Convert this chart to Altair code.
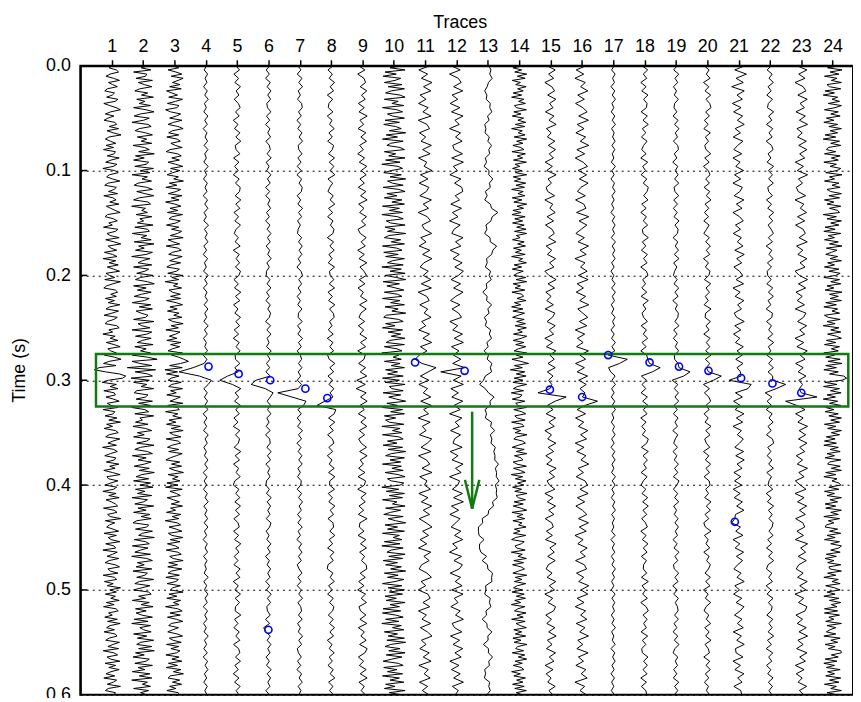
import altair as alt
import pandas as pd

# ---------------- data (amplitudes in hundredths of a trace spacing) ----------------
# each trace covers 0.0 - 0.6 s; noisy traces are sampled every 2 ms, quiet ones every 4 ms
T_END = 0.6

trace01 = [4,-8,15,22,-5,-18,6,25,-10,3, 18,-14,-22,9,2,-16,20,11,-25,-6, 14,28,-3,-20,7,-12,-24,10,16,-8,
           22,-15,5,30,-9,-20,-4,13,-18,6, -26,12,8,-14,24,-2,-19,17,5,-28, 10,21,-7,-16,3,26,-12,-22,15,8,
           -10,19,-25,4,14,-6,23,-17,-3,11, 27,-13,-21,6,18,-9,2,-26,20,12, -15,-5,24,-19,8,29,-11,-2,16,-23,
           3,17,-27,13,-8,21,-14,6,25,-18, -7,10,-22,28,4,-16,-25,12,19,-3, 15,-20,9,-11,26,-6,-18,22,1,-24,
           18,7,-14,-21,16,24,-9,3,-28,11, -5,20,-17,8,27,-12,-3,15,-23,9, 30,-8,-26,14,-40,-55,-20,25,45,35,
           -10,-30,15,-5,20,-25,8,12,-18,6, 24,-14,-2,19,-27,10,5,-21,17,-9, 28,-16,3,-24,12,21,-8,-19,26,4,
           -12,15,-29,7,18,-4,-22,13,9,-17, 23,-6,11,-25,2,27,-15,-10,20,-3, -21,16,6,-28,14,-9,24,-18,-1,12,
           19,-26,8,17,-13,-5,29,-20,10,-7, -16,4,22,-24,15,-11,-2,26,-19,7, 13,-28,18,3,-15,23,-8,-21,11,25,
           -12,-4,20,-27,9,16,-23,5,-14,28, -6,15,-20,12,-3,24,-17,8,-26,14, 21,-10,2,-22,18,-13,27,-5,-16,9,
           -24,11,17,-8,-19,25,4,-12,22,-27, 7,19,-15,-3,26,-21,13,-9,24,-2, -18,10,-25,16,5,-14,28,-11,-20,12, 8]
trace02 = [18,-6,25,-30,12,8,-22,30,-15,4, 28,-10,-26,15,-5,33,-20,6,-12,24, -30,10,35,-8,-28,20,2,-35,16,26,
           -12,-25,8,30,-18,12,-6,28,-32,5, 20,-14,36,-24,4,-30,18,10,-26,33, -8,22,-35,14,-3,27,-16,-28,12,30,
           -20,6,34,-12,-30,16,24,-36,8,-4, 14,-22,28,-10,2,-18,32,-26,15,20, -34,12,-6,26,-28,35,-14,4,-24,30,
           10,-36,22,-2,-16,28,-30,18,6,-20, 32,-8,-24,14,36,-30,10,-18,26,-5, -28,20,4,-34,25,-12,30,-22,-6,16,
           8,-30,35,-16,-4,22,-35,28,12,-24, 26,-2,-18,32,-26,10,-8,24,-34,14, 45,-35,-10,28,-50,40,-25,15,30,-38,
           20,-30,12,-6,34,-20,-28,16,8,-22, 30,-14,24,-36,6,18,-26,34,-10,-2, -24,16,-32,8,28,-18,4,-30,22,12,
           -20,35,-8,-26,14,30,-34,10,-16,26, 4,-28,20,-12,36,-4,-22,18,-30,24, -10,32,-24,6,-18,28,-35,14,2,-26,
           34,-16,10,-30,22,-6,26,-20,-32,18, 12,-24,30,-2,-14,36,-28,8,20,-34, 16,-8,-26,24,-36,12,30,-18,4,-22,
           28,-32,14,6,-20,34,-12,-26,22,-4, -30,18,26,-14,8,-34,20,-6,32,-24, 10,-22,-4,30,-28,16,-36,24,-10,2,
           26,-30,12,-18,34,-8,-20,28,-14,36, -24,4,-32,20,10,-26,30,-16,6,-34, 22,-12,28,-36,14,-2,24,-30,18,-8, 12]
trace03 = [-8,14,-20,5,24,-10,28,12,-6,18, -15,22,-25,-8,10,-18,26,4,-22,15, 8,-28,-12,20,6,-15,24,-2,-20,12,
           28,-6,-18,14,-24,9,19,-11,3,25, -14,-26,10,22,-8,16,-20,4,27,-12, 18,-5,-23,13,-2,29,-16,8,-27,20,
           6,-19,24,-10,15,-28,2,21,-14,11, -22,26,-7,-17,19,5,-25,14,-9,23, 10,-13,28,-20,-4,17,-26,12,22,-6,
           -18,25,3,-15,20,-11,-24,16,7,-21, 27,-8,14,-29,11,-3,23,-17,-6,19, -12,20,-25,6,26,-14,9,-22,15,-2,
           24,-19,-5,28,-10,13,-27,18,4,-16, 8,-24,21,-12,17,-6,-20,26,-9,14, 30,45,20,-15,25,-30,10,-25,15,-10,
           -20,22,-8,-18,26,-12,6,-24,19,3, -14,27,-21,9,16,-28,11,-5,23,-17, 5,-25,19,-10,28,-15,-3,21,-26,12,
           20,-8,-22,14,-18,25,6,-13,-27,17, -9,23,-16,2,29,-20,12,-6,18,-24, 11,-28,25,-14,7,19,-23,-3,16,-10,
           26,-12,4,-25,21,-7,14,-29,9,20, -17,6,24,-19,-8,27,-13,18,-22,3, 15,-26,11,22,-15,-4,28,-18,10,-21,
           24,-9,-20,16,-27,13,5,-23,19,-6, -12,28,-17,8,-24,20,-3,15,-28,11, 25,-14,19,-22,6,27,-10,-18,13,-5,
           -21,9,26,-16,-4,22,-25,14,-11,18, 7,-27,15,-8,24,-19,10,-26,21,-3, 29,-13,-20,17,-6,23,-15,5,-24,12, 16]
trace04 = [3,-5,6,-2,4,-7,5,-3,8,-4, 2,-6,7,-3,5,-8,4,-2,6,-5, 7,-3,2,-6,8,-4,3,-7,5,-2,
           4,-8,6,-3,7,-5,2,-6,9,-4, 5,-2,7,-6,3,-8,6,-4,2,-7, 8,-3,5,-7,4,-2,6,-5,7,-3,
           3,-6,8,-4,5,-7,2,-3,6,-8, 4,-5,-40,-85,-20,18,8,-6,5,-4, 6,-3,7,-8,4,-5,3,-7,8,-2,
           5,-6,2,-4,7,-3,6,-8,4,-5, 3,-7,5,-2,8,-6,4,-3,6,-5, 7,-4,3,-8,5,-2,6,-7,4,-3,
           2,-5,8,-6,3,-4,7,-2,5,-8, 6,-3,4,-7,2,-5,8,-4,3,-6, 5,-8,6,-2,7,-4,3,-6,5,-3, 4]
trace05 = [-4,8,-10,5,-7,11,-3,6,-9,4, 10,-5,7,-12,3,-8,9,-4,12,-6, -3,9,-11,6,-8,4,-12,7,-5,10,
           8,-6,12,-4,9,-10,5,-7,11,-3, -9,4,-6,10,-12,7,-3,8,-5,11, 6,-10,4,-8,12,-5,9,-11,3,-7,
           11,-4,8,-9,5,-12,7,-3,10,-6, -5,9,-7,4,-30,-55,-15,12,-6,5, -8,11,-4,7,-10,3,-12,9,-5,8,
           4,-9,12,-6,8,-11,5,-3,10,-7, -12,6,-4,9,-7,11,-5,8,-10,3, 7,-11,5,-8,12,-4,6,-9,3,-10,
           10,-3,9,-12,4,-7,11,-6,8,-5, -6,12,-8,3,-10,7,-4,9,-11,5, 9,-5,11,-7,4,-12,6,-8,10,-3, 6]
trace06 = [5,-7,3,-9,6,-4,8,-2,7,-5, -3,8,-6,4,-9,5,-2,7,-8,3, 6,-4,9,-7,2,-5,8,-3,6,-9,
           4,-8,5,-2,7,-6,3,-9,5,-4, 8,-3,6,-7,4,-2,9,-5,3,-6, -7,5,-4,8,-6,3,-8,6,-2,7,
           3,-9,7,-5,8,-4,2,-6,9,-3, 5,-6,4,-8,6,-40,-55,-10,15,6, -4,7,-3,8,-5,2,-7,6,-9,4,
           6,-5,9,-3,7,-8,4,-2,5,-6, -8,3,-6,9,-4,7,-2,5,-7,8, 4,-7,2,-5,8,-3,6,-9,3,-4,
           7,-2,5,-8,4,-6,9,-3,7,-5, -3,6,-9,4,-15,-8,6,-4,8,-2, 5,-7,3,-6,9,-4,7,-2,5,-8, 3]
trace07 = [-6,4,-8,7,-3,9,-5,2,-7,6, 8,-4,5,-9,3,-6,7,-2,9,-5, -3,7,-6,4,-8,5,-9,6,-2,8,
           5,-8,3,-6,9,-4,6,-7,2,-5, -7,6,-4,8,-2,7,-5,3,-9,4, 9,-3,6,-5,4,-8,2,-6,7,-4,
           -5,8,-7,3,-6,9,-4,5,-8,2, 6,-4,7,-5,3,-8,6,-5,-70,-25, 20,12,-6,5,-8,3,-7,9,-4,6,
           -9,4,-5,7,-3,8,-6,2,-7,5, 3,-8,6,-4,9,-2,5,-7,4,-6, 8,-5,2,-9,6,-3,7,-4,5,-8,
           -2,7,-6,4,-8,5,-3,9,-6,3, 6,-4,8,-7,2,-5,9,-3,6,-8, -4,5,-7,3,-9,6,-2,8,-5,4, -3]
trace08 = [7,-10,4,-6,11,-3,8,-12,5,-7, -9,6,-12,3,-5,10,-7,4,-11,8, 4,-8,11,-6,9,-3,12,-10,5,-4,
           -10,7,-3,12,-8,5,-11,6,-2,9, 6,-12,8,-4,10,-7,3,-9,11,-5, -3,9,-6,11,-10,4,-8,12,-5,7,
           10,-5,3,-9,7,-12,6,-4,8,-11, -6,12,-4,8,-10,5,-7,9,-3,6, -20,-45,15,10,-8,12,-5,7,-11,4,
           9,-7,5,-12,3,-6,10,-8,12,-4, -5,11,-9,4,-7,12,-3,8,-10,6, 8,-4,12,-6,5,-11,9,-3,7,-10,
           -12,6,-3,10,-8,4,-11,7,-5,9, 5,-9,7,-5,11,-4,8,-12,3,-6, 10,-6,4,-10,7,-3,12,-8,6,-5, 8]
trace09 = [-12,8,-15,5,10,-7,14,-3,9,-13, 6,-11,15,-8,4,-14,11,-5,13,-9, 3,-15,7,-10,14,-4,12,-8,6,-13,
           11,-6,15,-12,5,-9,13,-3,10,-14, -7,12,-4,9,-15,6,-11,14,-8,5, 13,-10,8,-14,3,-6,15,-9,12,-5,
           -11,7,-13,4,-8,14,-6,10,-15,9, 5,-12,10,-7,14,-18,9,-20,12,-6, 15,-8,6,-13,11,-5,14,-10,7,-12,
           -4,13,-9,15,-7,3,-12,8,-14,10, 6,-15,12,-5,9,-11,4,-13,15,-8, -10,5,-14,11,-6,13,-9,7,-3,12,
           14,-7,9,-12,5,-15,10,-4,13,-11, -6,11,-8,14,-13,6,-5,12,-9,15, 8,-13,4,-10,12,-7,15,-11,6,-4, 9]
trace10 = [30,-12,36,-28,8,-34,22,4,-30,26, -18,34,-8,-26,20,36,-30,14,-6,32, -36,10,28,-20,-4,34,-28,18,-32,6,
           24,-14,38,-24,12,-36,30,-10,-22,20, 34,-30,6,-16,36,-26,20,-38,14,28, -8,-32,24,-12,38,-20,-4,30,-34,16,
           36,-22,10,-30,26,-6,34,-36,18,-14, 28,-38,12,30,-24,-10,36,-28,4,-20, 38,-16,-30,22,-8,34,-36,10,26,-32,
           14,-26,34,-4,-20,30,-38,24,-12,36, -28,8,38,-34,18,-22,6,32,-30,12, 26,-36,20,-10,34,-28,14,-6,38,-24,
           -32,16,30,-26,4,-36,28,-18,22,-8, 36,-12,-24,34,-30,10,26,-38,16,-2, 24,-30,20,-8,34,-26,12,-20,30,-36,
           18,-28,36,-14,-6,30,-34,22,-16,8, 38,-22,12,-36,28,-10,34,-30,6,-26, -14,32,-38,20,-4,26,-36,16,30,-20,
           10,-34,28,-18,38,-8,-26,34,-12,22, -36,24,-6,30,-28,14,36,-20,-8,32, 20,-38,16,-24,34,-14,28,-36,10,-4,
           36,-26,22,-10,-32,30,-18,6,38,-28, 12,-20,34,-36,18,-2,26,-30,20,-38, 30,-8,-22,36,-16,28,-34,12,-26,24,
           -10,38,-30,14,-20,32,4,-36,26,-18, 34,-14,28,-28,8,-24,36,-12,18,-34, 22,-36,6,30,-26,16,-38,24,-4,32,
           -30,12,-18,34,-22,38,-10,-28,20,-16, 36,-24,26,-6,-34,14,30,-32,10,-20, 28,-36,18,-12,32,-26,4,-30,36,-14, 24]
trace11 = [15,-20,8,-12,22,-5,18,-16,3,-21, 10,-7,19,-22,6,14,-18,2,-13,20, -8,16,-21,5,-3,22,-15,9,-19,12,
           4,-17,20,-6,11,-22,7,17,-10,-2, 21,-14,3,-19,15,-8,22,-4,-16,10, -6,18,-12,20,-22,5,13,-17,8,-3,
           19,-11,2,-20,14,-7,21,-15,6,-18, -32,-10,35,10,-15,12,-20,8,-6,18, -14,20,-5,11,-22,16,-9,3,-18,21,
           7,-13,19,-21,4,15,-10,22,-17,6, -2,17,-20,9,-12,21,-6,14,-19,3, 22,-8,11,-16,5,-21,18,-4,13,-11,
           -19,6,20,-13,2,-22,9,16,-7,15, -21,4,-10,18,-15,7,22,-12,3,-17, 13,-6,19,-20,10,-3,16,-18,8,-9, 12]
trace12 = [-18,12,-22,6,15,-9,20,-14,4,-20, 11,-16,21,-5,9,-22,13,-3,18,-12, -7,19,-15,22,-10,3,-21,14,-6,17,
           20,-4,10,-18,16,-13,5,-22,12,-8, -15,21,-3,14,-20,9,-11,18,-5,22, 6,-17,13,-9,21,-2,-19,11,-14,7,
           16,-21,4,-12,19,-7,22,-16,8,-10, 14,-12,26,-50,15,-10,22,-18,6,-15, 20,-8,12,-22,17,-4,9,-19,13,-6,
           -11,18,-20,5,-14,21,-3,15,-22,10, 4,-13,19,-9,22,-16,7,-21,11,-2, -17,14,-6,20,-12,3,-22,16,-8,19,
           9,-20,13,-4,18,-15,21,-7,5,-18, 12,-3,22,-14,-6,17,-19,10,-11,20, -5,15,-21,8,-16,12,-9,22,-13,6, -4]
trace13 = [3,10,6,14,2,-2,-10,-3,-5,8, 6,13,-1,4,-10,-6,-9,5,0,12, 3,6,-8,-4,-12,4,3,16,5,8,
           -8,-2,-10,8,12,32,14,10,-6,-3, -10,7,8,28,16,12,-4,-2,-8,9, 4,11,-5,-3,-16,-2,-4,12,0,4,
           -11,-4,-8,9,5,12,-3,1,-12,2, -2,13,8,12,-8,-14,-26,-8,2,20, 7,8,-9,-4,-8,12,9,22,8,13,
           10,24,19,23,22,34,24,28,27,36, 24,28,27,30,15,18,3,1,-18,-16, -30,-30,-28,-12,-26,-27,-22,-4,-18,-1,
           0,15,12,13,-7,-6,-10,8,5,10, -6,-4,-18,-3,-2,13,0,1,-14,2, 2,15,3,5,-10,-7,-11,6,3,8, -3]
trace14 = [16,-20,8,-14,24,-6,19,-22,4,-11, 22,-5,13,-19,8,-24,15,-2,20,-15, -9,23,-17,6,-22,14,-4,21,-12,18,
           -24,10,-3,19,-16,24,-8,12,-20,5, 15,-23,20,-6,11,-18,23,-13,2,-21, 8,-12,24,-19,5,-15,21,-10,17,-24,
           13,-4,18,-22,9,-17,24,-7,14,-20, 6,-23,19,-14,11,-21,16,-8,22,-15, 24,-9,3,-21,16,-5,20,-18,7,-12,
           19,-24,11,-2,23,-16,8,-22,13,-6, -17,21,-10,24,-19,4,-13,18,-23,9, 14,-7,22,-15,5,-24,12,-20,17,-3,
           -21,16,-8,20,-13,23,-5,10,-18,24, 7,-19,15,-11,21,-2,-16,24,-9,12, -23,5,30,-15,10,-28,18,-9,22,-16,
           12,-20,24,-6,-18,14,-25,9,3,-22, 18,-11,-4,23,-17,8,21,-14,-6,19, -24,10,15,-20,5,-13,25,-8,-17,11,
           20,-3,-22,16,-9,24,-15,6,12,-19, -7,23,-18,4,19,-25,11,-12,22,-5, 15,-21,8,-14,25,-10,-3,20,-16,13,
           -19,6,24,-23,12,-7,18,-20,9,-2, 22,-15,3,-18,21,-11,-24,16,7,-13, -8,19,-25,10,-4,23,-17,14,-21,6,
           17,-2,-20,24,-12,9,-15,21,-6,-18, 11,-23,16,-9,20,-14,5,-25,18,-4, -15,22,-7,13,-24,19,-10,3,23,-17,
           8,-12,21,-20,6,-16,25,-5,-11,14, -22,18,-3,24,-13,10,-19,7,15,-24, 4,-17,20,-8,12,-21,16,-14,23,-9, 10]
trace15 = [-12,15,-6,10,-18,4,13,-9,17,-3, 8,-16,11,-5,18,-13,2,-10,14,-7, 16,-4,9,-17,6,-12,18,-8,3,-14,
           -9,13,-18,7,-2,15,-11,10,-16,5, 12,-6,17,-14,4,-10,16,-3,11,-18, -5,18,-8,13,-15,2,-12,9,-17,14,
           6,-11,15,-4,10,-18,7,-13,17,-2, 12,-8,15,-10,8,-6,4,-2,-40,50, 15,-10,8,-14,16,-5,12,-18,3,-9,
           17,-7,10,-15,5,-12,18,-4,13,-11, -3,14,-18,8,-10,16,-6,11,-17,4, 9,-13,6,-16,18,-2,12,-9,15,-7,
           -14,5,-11,17,-4,13,-18,7,-8,16, 10,-15,3,-12,14,-6,18,-10,5,-13, 16,-4,11,-17,8,-14,2,-9,15,-5, 7]
trace16 = [14,-18,6,-22,11,-4,19,-13,8,-20, 3,17,-10,21,-15,7,-19,12,-5,22, -16,9,-21,4,18,-12,15,-8,20,-3,
           -14,11,-20,6,13,-17,22,-9,16,-2, -19,8,-12,21,-6,14,-22,10,-4,17, -11,20,-15,5,-18,12,-7,22,-13,3,
           19,-8,16,-21,9,-14,4,-17,21,-6, 12,-20,8,-15,18,-10,14,-6,10,2, 50,10,-15,12,-20,6,-11,19,-4,15,
           -21,7,-16,13,-3,22,-12,5,-18,10, 18,-6,20,-14,9,-19,2,16,-11,21, -8,14,-22,4,-13,17,-5,11,-20,8,
           15,-17,6,-10,22,-3,19,-15,7,-21, 12,-4,16,-18,10,-7,21,-13,3,-16, 20,-11,5,-19,13,-2,17,-22,9,-6, 14]
trace17 = [3,-5,6,-2,4,-7,5,-3,7,-4, 2,-6,5,-3,7,-5,3,-2,6,-4, 5,-3,2,-6,7,-4,3,-7,4,-2,
           6,-4,3,-5,2,-7,5,-3,6,-2, 4,-6,7,-3,5,-2,6,-5,3,-7, 2,-4,6,-5,7,-3,4,-6,2,-5,
           6,-2,4,-7,3,-5,7,-4,5,-16, 45,20,-15,-8,6,-4,7,-5,3,-6, 5,-3,7,-4,2,-6,4,-2,6,-5,
           3,-7,5,-3,6,-4,2,-5,7,-3, 6,-4,3,-6,5,-2,7,-5,4,-3, 2,-5,6,-7,4,-3,5,-6,3,-4,
           7,-3,4,-5,2,-6,6,-4,5,-2, 4,-6,3,-4,7,-5,2,-3,6,-7, 5,-2,6,-4,3,-7,4,-5,2,-6, 4]
trace18 = [-8,10,-4,7,-12,5,-9,11,-3,8, 6,-11,9,-5,12,-7,4,-10,8,-3, -9,5,-12,10,-6,3,-11,7,-4,12,
           8,-3,11,-9,5,-12,6,-4,10,-7, -5,12,-7,4,-10,9,-3,8,-12,6, 11,-6,3,-9,7,-11,12,-5,4,-8,
           -3,9,-11,6,-4,10,-8,5,-12,7, 10,16,50,25,-10,6,-8,4,-11,9, -6,11,-4,8,-12,5,-9,3,-7,12,
           7,-10,12,-5,9,-3,6,-11,8,-4, -11,4,-8,10,-6,12,-5,7,-9,3, 9,-12,5,-7,11,-4,8,-10,6,-3,
           -4,7,-10,12,-8,3,-6,9,-12,5, 12,-5,8,-3,6,-11,10,-7,4,-9, -7,11,-3,9,-5,8,-12,6,-10,4, 7]
trace19 = [4,-7,9,-3,6,-8,2,-5,8,-4, -6,3,-9,7,-4,10,-2,5,-8,6, 8,-5,3,-10,6,-2,7,-4,9,-6,
           -3,9,-7,5,-8,4,-6,10,-3,7, 5,-9,6,-2,8,-5,10,-7,3,-4, -8,4,-6,9,-3,7,-10,5,-2,8,
           6,-3,10,-7,4,-8,5,-2,9,-5, -4,7,10,45,25,-12,6,-5,8,-3, 9,-6,4,-8,7,-3,5,-10,6,-2,
           -7,5,-9,3,-5,8,-4,6,-8,10, 3,-8,6,-4,9,-7,2,-5,7,-3, 8,-2,5,-9,4,-6,10,-3,6,-8,
           -5,9,-3,7,-10,4,-7,8,-2,5, 7,-4,8,-6,3,-9,6,-5,10,-3, -9,6,-2,5,-7,3,-8,9,-4,6, -5]
trace20 = [-10,6,-3,9,-12,5,-7,11,-4,8, 12,-5,7,-9,3,-11,10,-6,4,-8, -4,11,-8,6,-12,3,9,-5,7,-10,
           8,-3,12,-7,5,-9,4,-11,6,-2, -11,7,-5,10,-3,8,-12,4,-6,9, 5,-9,11,-4,7,-6,3,-10,12,-5,
           -7,10,-4,6,-11,9,-3,8,-5,12, -6,8,-3,4,45,20,-12,7,-9,5, 11,-4,6,-10,3,-7,12,-5,9,-8,
           -3,8,-12,5,-6,11,-4,7,-10,6, 9,-5,4,-8,12,-3,10,-7,5,-11, -6,12,-9,3,-4,8,-11,6,-2,10,
           4,-7,10,-5,9,-12,3,-6,11,-4, -10,5,-3,11,-8,6,-5,12,-7,3, 7,-11,8,-4,10,-6,5,-9,4,-3, 8]
trace21 = [20,-12,25,-8,15,-22,18,-5,12,-20, 8,-16,13,-4,18,-11,6,-17,14,-3, -15,10,-18,5,-9,16,-13,7,-18,12,
           4,-14,17,-7,11,-18,3,15,-10,6, -17,9,-4,14,-12,18,-6,10,-15,3, 13,-8,16,-18,5,-11,17,-3,9,-14,
           -6,18,-12,7,-16,4,-10,15,-5,12, -9,14,-5,6,8,-30,40,30,-10,12, -16,5,-11,17,-7,13,-18,9,-4,15,
           3,-12,16,-9,18,-5,11,-15,7,-13, 10,-17,5,-14,12,-6,17,-10,-12,-22, 6,-9,14,-18,4,-11,16,-7,13,-3,
           -15,8,-5,18,-12,3,-16,10,-8,17, 5,-13,11,-4,15,-17,9,-6,18,-10, -8,14,-18,6,-12,17,-3,11,-15,7, 10]
trace22 = [5,-9,7,-3,11,-6,4,-10,8,-5, -8,12,-4,6,-11,9,-3,7,-12,5, 10,-6,3,-9,12,-5,8,-4,11,-7,
           -4,8,-11,5,-7,12,-3,9,-6,4, 11,-5,8,-12,6,-3,10,-8,5,-9, -7,4,-10,9,-5,11,-6,3,-12,8,
           6,-11,5,-4,9,-7,12,-5,3,-10, 8,-4,11,-6,9,8,50,20,-15,6, -9,5,-12,7,-3,10,-6,4,-11,8,
           12,-7,3,-9,6,-4,11,-10,5,-3, -6,9,-12,4,-8,12,-5,7,-3,10, 7,-3,10,-7,5,-11,8,-4,12,-6,
           -11,6,-4,8,-12,3,-9,10,-5,7, 4,-10,9,-3,7,-6,12,-8,5,-12, 9,-4,6,-11,3,-7,10,-5,8,-3, 6]
trace23 = [-15,18,-8,12,-20,6,15,-11,19,-4, 10,-17,13,-6,20,-14,3,-12,16,-8, 18,-5,11,-19,7,-13,20,-9,4,-16,
           -10,14,-20,8,-3,17,-12,11,-18,6, 13,-7,19,-15,5,-11,18,-4,12,-20, -6,20,-9,14,-17,3,-13,10,-19,15,
           7,-12,17,-5,11,-20,8,-14,19,-3, 12,-18,6,-10,15,-8,4,-6,0,50, -50,-15,12,-18,6,-11,20,-7,14,-9,
           18,-5,11,-16,4,-13,20,-8,9,-19, -3,15,-20,9,-12,17,-6,13,-18,5, 11,-14,7,-19,20,-2,14,-10,16,-8,
           -16,6,-12,19,-5,15,-20,8,-9,18, 12,-17,4,-13,16,-7,20,-11,6,-15, 18,-5,13,-19,9,-16,3,-10,17,-6, 8]
trace24 = [24,-16,30,-8,20,-26,14,-4,28,-18, -10,26,-24,6,-30,16,-2,22,-14,28, 8,-26,18,-6,24,-20,4,-28,16,-12,
           28,-8,16,-24,10,-30,22,-6,26,-14, -20,10,-26,24,-4,18,-28,12,-8,26, 14,-22,30,-10,6,-26,20,-2,24,-18,
           -6,28,-12,22,-26,4,-18,26,-10,16, 22,-30,12,-18,28,-6,20,-24,8,-28, 26,-14,6,-26,18,-10,30,-20,14,-4,
           -22,16,-8,28,-16,6,-26,20,-12,24, 10,-28,22,-6,26,-18,4,-24,30,-10, 18,-8,28,-22,12,-28,16,-2,22,-26,
           -14,24,-18,8,-30,20,-6,26,-16,12, 28,-20,10,-26,22,-4,18,-28,6,-22, 24,-15,30,-22,12,-28,18,-10,35,45,
           30,-25,14,-29,22,-7,27,-18,9,-30, 16,-10,26,-22,4,-24,18,-12,28,-6, 22,-26,10,-16,28,-4,22,-20,8,-26,
           12,-28,18,-8,24,-18,6,-24,26,-10, -16,24,-4,28,-22,10,-28,14,-2,20, 26,-12,20,-26,6,-18,28,-8,16,-24,
           10,-22,28,-6,18,-28,22,-14,4,-20, -24,16,-10,26,-18,8,-26,22,-6,28, 20,-6,24,-20,12,-24,4,-16,26,-12,
           -8,28,-16,10,-28,18,-2,24,-22,6, 24,-18,8,-28,20,-10,26,-4,14,-26, 16,-26,22,-12,4,-22,28,-18,10,-8,
           -20,10,-28,24,-6,16,-24,8,-14,26, 28,-4,18,-24,14,-28,6,-20,24,-16, 6,-22,26,-10,20,-26,12,-6,28,-18, 14]

TRACES = [trace01, trace02, trace03, trace04, trace05, trace06, trace07, trace08,
          trace09, trace10, trace11, trace12, trace13, trace14, trace15, trace16,
          trace17, trace18, trace19, trace20, trace21, trace22, trace23, trace24]

PICK_TRACE = [4.09, 5.05, 6.06, 7.18, 7.88, 10.68, 12.26, 14.98, 16.01, 16.84,
              18.16, 19.10, 20.04, 21.08, 22.08, 23.00, 20.88, 6.00]
PICK_TIME = [0.287, 0.294, 0.300, 0.308, 0.317, 0.283, 0.291, 0.309, 0.316, 0.276,
             0.283, 0.287, 0.291, 0.298, 0.303, 0.312, 0.435, 0.538]

BOX_TRACE = [0.5, 24.5]
BOX_TIME = [0.275, 0.325]
ARROW_TRACE = 12.5
ARROW_TIME = [0.33, 0.4225]
ARROW_HEAD_HALF = 0.23
ARROW_HEAD_TIME = 0.395

TRACE_TICKS = list(range(1, 25))
TIME_TICKS = [0.0, 0.1, 0.2, 0.3, 0.4, 0.5, 0.6]

GREEN = "#117a11"
BLUE = "#0000ff"
FONT = "Liberation Sans"

# ---------------- tables ----------------
rows = []
for k, vals in enumerate(TRACES, start=1):
    n = len(vals)
    for i, v in enumerate(vals):
        rows.append({"trace": k, "t": round(i * T_END / (n - 1), 5), "x": k + v / 100.0})
df = pd.DataFrame(rows)

picks = pd.DataFrame({"x": PICK_TRACE, "t": PICK_TIME})
box = pd.DataFrame({"x": [BOX_TRACE[0]], "x2": [BOX_TRACE[1]],
                    "t": [BOX_TIME[0]], "t2": [BOX_TIME[1]]})
arrow = pd.DataFrame({
    "x": [ARROW_TRACE, ARROW_TRACE - ARROW_HEAD_HALF, ARROW_TRACE + ARROW_HEAD_HALF],
    "t": [ARROW_TIME[0], ARROW_HEAD_TIME, ARROW_HEAD_TIME],
    "x2": [ARROW_TRACE, ARROW_TRACE, ARROW_TRACE],
    "t2": [ARROW_TIME[1], ARROW_TIME[1], ARROW_TIME[1]],
})
yticks = pd.DataFrame({"t": TIME_TICKS[1:-1]})

xs = alt.Scale(domain=[0, 24.65], nice=False, zero=False)
ys = alt.Scale(domain=[0, 0.6], reverse=True, nice=False, zero=False)

x_axis = alt.Axis(orient="top", values=TRACE_TICKS, title="Traces", grid=False,
                  tickSize=6, tickWidth=1.5, tickColor="black", labelPadding=4,
                  titlePadding=7, titleX=383, domainColor="black", domainWidth=2)
y_axis = alt.Axis(values=TIME_TICKS, format=".1f", title="Time (s)", grid=True,
                  gridDash=[2, 4], gridColor="black", gridWidth=1, gridOpacity=1,
                  ticks=False, labelPadding=10, titlePadding=17, titleY=307,
                  domainColor="black", domainWidth=2)


def X(f="x"):
    return alt.X(f"{f}:Q", scale=xs, axis=x_axis)


def Y(f="t"):
    return alt.Y(f"{f}:Q", scale=ys, axis=y_axis)


wiggles = alt.Chart(df).mark_line(color="black", strokeWidth=1, clip=True).encode(
    x=X(), y=Y(), detail="trace:N", order="t:Q")

ticks_in = alt.Chart(yticks).mark_rule(color="black", strokeWidth=1.5).encode(
    y=Y(), x=alt.value(0), x2=alt.value(7))

box_layer = alt.Chart(box).mark_rect(filled=False, color=GREEN, strokeWidth=2.5).encode(
    x=X(), x2="x2:Q", y=Y(), y2="t2:Q")

arrow_layer = alt.Chart(arrow).mark_rule(color=GREEN, strokeWidth=2.5).encode(
    x=X(), x2="x2:Q", y=Y(), y2="t2:Q")

pick_layer = alt.Chart(picks).mark_point(shape="circle", filled=False, color=BLUE,
                                         size=52, strokeWidth=1.6, opacity=1).encode(
    x=X(), y=Y())

chart = alt.layer(wiggles, ticks_in, box_layer, arrow_layer, pick_layer).properties(
    width=780, height=635,
    padding={"left": 73, "top": 55, "right": 0, "bottom": 0},
    autosize=alt.AutoSizeParams(type="none"),
).configure_view(stroke="black", strokeWidth=2).configure_axis(
    labelFont=FONT, labelFontSize=18, labelColor="black",
    titleFont=FONT, titleFontSize=18, titleFontWeight="normal", titleColor="black",
)

chart.save("out.html", embed_options={"renderer": "svg", "actions": False})
